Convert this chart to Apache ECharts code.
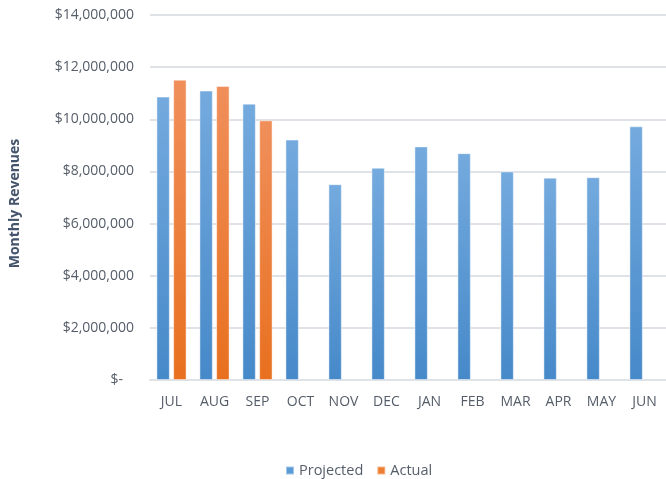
<!DOCTYPE html>
<html>
<head>
<meta charset="utf-8">
<title>Monthly Revenues</title>
<script src="https://cdn.jsdelivr.net/npm/echarts@6/dist/echarts.min.js"></script>
<style>
  html, body { margin: 0; padding: 0; background: #fff; }
  #chart { width: 666px; height: 479px; }
</style>
</head>
<body>
<div id="chart"></div>
<script>
// 月份与数据（单位：美元）
var months = ['JUL', 'AUG', 'SEP', 'OCT', 'NOV', 'DEC', 'JAN', 'FEB', 'MAR', 'APR', 'MAY', 'JUN'];
var projected = [10870000, 11100000, 10600000, 9220000, 7510000, 8140000, 8960000, 8700000, 8000000, 7760000, 7780000, 9730000];
var actual = [11520000, 11280000, 9960000, null, null, null, null, null, null, null, null, null];
var yTicks = [0, 2000000, 4000000, 6000000, 8000000, 10000000, 12000000, 14000000];

var labelFont = 'Open Sans';
var labelColor = '#555d69';
var gridColor = '#dfe3e8';

function grad(top, bottom) {
    return new echarts.graphic.LinearGradient(0, 0, 0, 1, [
        { offset: 0, color: top },
        { offset: 1, color: bottom }
    ]);
}

var myChart = echarts.init(document.getElementById('chart'));

var option = {
    animation: false,
    backgroundColor: '#fff',
    legend: {
        top: 458,
        left: 280,
        icon: 'rect',
        itemWidth: 8,
        itemHeight: 8,
        itemGap: 13,
        textStyle: { fontFamily: labelFont, fontSize: 14.5, color: labelColor },
        data: [
            { name: 'Projected', itemStyle: { color: '#5b9bd5' } },
            { name: 'Actual', itemStyle: { color: '#ed7d31' } }
        ]
    },
    grid: {
        left: 145,
        top: 15,
        width: 523,
        height: 365
    },
    xAxis: {
        type: 'category',
        data: months,
        axisTick: { show: false },
        axisLine: { lineStyle: { color: gridColor, width: 2 } },
        axisLabel: {
            fontFamily: labelFont,
            fontSize: 14,
            color: labelColor,
            margin: 15
        }
    },
    yAxis: {
        type: 'value',
        min: yTicks[0],
        max: yTicks[yTicks.length - 1],
        interval: yTicks[1] - yTicks[0],
        name: 'Monthly Revenues',
        nameLocation: 'middle',
        nameRotate: 90,
        nameGap: 128,
        nameTextStyle: {
            fontFamily: labelFont,
            fontSize: 14,
            fontWeight: 'bold',
            color: '#44546a',
            padding: [0, 12, 0, 0]
        },
        axisLine: { show: false },
        axisTick: { show: false },
        splitLine: { lineStyle: { color: gridColor, width: 2 } },
        axisLabel: {
            fontFamily: labelFont,
            fontSize: 14,
            color: labelColor,
            margin: 16,
            formatter: function(v) {
                if (v === 0) return '$-   ';
                return '$' + v.toLocaleString('en-US');
            }
        }
    },
    series: [{
        name: 'Projected',
        type: 'bar',
        barWidth: 13.4,
        barGap: '25%',
        data: projected,
        itemStyle: {
            color: grad('#74aade', '#4689c9'),
            borderColor: 'rgba(255,255,255,0.45)',
            borderWidth: 1
        }
    }, {
        name: 'Actual',
        type: 'bar',
        barWidth: 13.4,
        data: actual,
        itemStyle: {
            color: grad('#f08f5b', '#e8701f'),
            borderColor: 'rgba(255,255,255,0.45)',
            borderWidth: 1
        }
    }]
};

myChart.setOption(option);
</script>
</body>
</html>
